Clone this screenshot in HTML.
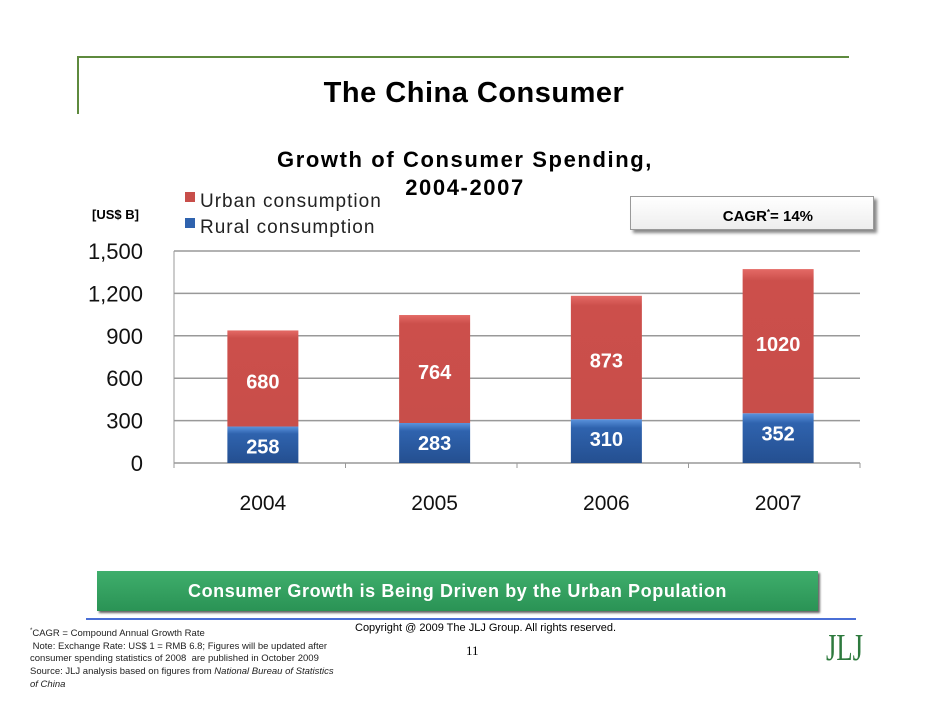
<!DOCTYPE html>
<html><head><meta charset="utf-8"><style>
body{margin:0;background:#fff;width:942px;height:728px;overflow:hidden;font-family:"Liberation Sans",sans-serif;}
.a{position:absolute;}
</style></head><body>
<div class="a" style="left:77px;top:57px;width:2px;height:57px;background:#5e8a3e"></div>
<div class="a" style="left:77px;top:56px;width:772px;height:2px;background:#5e8a3e"></div>
<div class="a" style="left:224px;top:77px;width:500px;text-align:center;font-size:29px;font-weight:bold;letter-spacing:0.5px">The China Consumer</div>
<div class="a" style="left:210px;top:146px;width:510px;text-align:center;font-size:22px;font-weight:bold;line-height:28px;letter-spacing:1.6px">Growth of Consumer Spending,<br>2004-2007</div>
<div class="a" style="left:92px;top:207px;font-size:13px;font-weight:bold">[US$ B]</div>
<div class="a" style="left:630px;top:196px;width:238px;height:32px;border:1px solid #999;box-shadow:3px 3px 3px #888;background:linear-gradient(#fff,#eee);font-size:15px;font-weight:bold;line-height:32px;text-align:right;padding-right:4px;box-sizing:content-box"><span style="margin-right:56px">CAGR<sup style="font-size:8px">*</sup>= 14%</span></div>
<svg class="a" style="left:0;top:0" width="942" height="728">
<defs>
<linearGradient id="gr" x1="0" y1="0" x2="0" y2="1"><stop offset="0" stop-color="#e46a66"/><stop offset="0.08" stop-color="#cc4f4b"/><stop offset="1" stop-color="#c84e4a"/></linearGradient>
<linearGradient id="gb" x1="0" y1="0" x2="0" y2="1"><stop offset="0" stop-color="#5b93dd"/><stop offset="0.2" stop-color="#2f63ae"/><stop offset="1" stop-color="#244f90"/></linearGradient>
</defs>
<g id="grid"></g><g id="bars"></g><g id="labels"></g>
<rect x="185" y="192" width="10" height="10" fill="#c84e4a"/>
<text x="200" y="207" font-size="19" fill="#222" font-family="Liberation Sans" letter-spacing="1">Urban consumption</text>
<rect x="185" y="218" width="10" height="10" fill="#2f63ae"/>
<text x="200" y="233" font-size="19" fill="#222" font-family="Liberation Sans" letter-spacing="1">Rural consumption</text>
</svg>
<div class="a" style="left:97px;top:571px;width:721px;height:40px;background:linear-gradient(#3fae6c,#2a9355);box-shadow:2px 2px 2px #666;color:#fff;font-weight:bold;font-size:18px;letter-spacing:0.6px;text-align:center;line-height:40px">Consumer Growth is Being Driven by the Urban Population</div>
<div class="a" style="left:86px;top:618px;width:770px;height:2px;background:#4a6fd6"></div>
<div class="a" style="left:30px;top:625px;font-size:9.5px;line-height:12.6px;color:#222"><sup style="font-size:6px">*</sup>CAGR = Compound Annual Growth Rate<br>&nbsp;Note: Exchange Rate: US$ 1 = RMB 6.8; Figures will be updated after<br>consumer spending statistics of 2008 &nbsp;are published in October 2009<br>Source: JLJ analysis based on figures from <i>National Bureau of Statistics</i><br><i>of China</i></div>
<div class="a" style="left:355px;top:622px;font-size:11px">Copyright @ 2009 The JLJ Group. All rights reserved.</div>
<div class="a" style="left:466px;top:643px;font-size:13px;font-family:'Liberation Serif',serif">11</div>
<div class="a" style="left:826px;top:626px;font-size:38px;font-family:'Liberation Serif',serif;color:#2e7a3e;transform:scaleX(0.7);transform-origin:left top">JLJ</div>
<script>
const years=["2004","2005","2006","2007"];
const rural=[258,283,310,352];
const urban=[680,764,873,1020];
const yTicks=[0,300,600,900,1200,1500];
const yTickLabels=["0","300","600","900","1,200","1,500"];
const NS="http://www.w3.org/2000/svg";
const x0=177,x1=864,gx1=860,y0=463,y1=251,ymax=1500;
const Y=v=>y0-(v/ymax)*(y0-y1);
const bw=(x1-x0)/years.length;
const X=i=>x0+bw*(i+0.5);
function mk(t,a,p){const e=document.createElementNS(NS,t);for(const k in a)e.setAttribute(k,a[k]);p.appendChild(e);return e;}
const g=document.getElementById('grid'),b=document.getElementById('bars'),l=document.getElementById('labels');
yTicks.forEach((v,i)=>{
 const ln=mk('line',{x1:174,x2:gx1,y1:Y(v),y2:Y(v),stroke:'#999','stroke-width':1.5},g);
 
 
 const t=mk('text',{x:143,y:Y(v)+8,'text-anchor':'end','font-size':22,fill:'#111','font-family':'Liberation Sans'},g);
 t.textContent=yTickLabels[i];
 
 
});
mk('line',{x1:174,x2:174,y1:y1,y2:y0,stroke:'#999','stroke-width':1},g);
for(let i=0;i<=years.length;i++){mk('line',{x1:Math.min(174+171.5*i,gx1),x2:Math.min(174+171.5*i,gx1),y1:y0,y2:y0+5,stroke:'#999'},g);}
years.forEach((yr,i)=>{
 const cx=X(i),w=71;
 const r=mk('rect',{x:cx-w/2,y:Y(rural[i]),width:w,height:Y(0)-Y(rural[i]),fill:'url(#gb)'},b);
 
 
 const u=mk('rect',{x:cx-w/2,y:Y(rural[i]+urban[i]),width:w,height:Y(rural[i])-Y(rural[i]+urban[i]),fill:'url(#gr)'},b);
 
 
 const t1=mk('text',{x:cx,y:Y(rural[i])+Math.min(25,(Y(0)-Y(rural[i]))/2+14)+2,'text-anchor':'middle','font-size':20,'font-weight':'bold',fill:'#fff','font-family':'Liberation Sans'},l);
 t1.textContent=rural[i];
 
 
 const t2=mk('text',{x:cx,y:(Y(rural[i])+Y(rural[i]+urban[i]))/2+10,'text-anchor':'middle','font-size':20,'font-weight':'bold',fill:'#fff','font-family':'Liberation Sans'},l);
 t2.textContent=urban[i];
 
 
 const t3=mk('text',{x:cx,y:510,'text-anchor':'middle','font-size':21,fill:'#111','font-family':'Liberation Sans'},l);
 t3.textContent=yr;
 
 
});
</script>
</body></html>
